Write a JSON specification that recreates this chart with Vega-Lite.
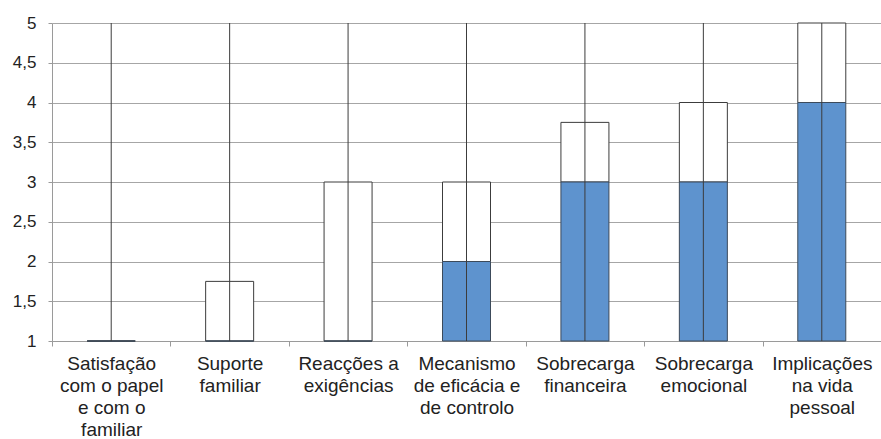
{
  "$schema": "https://vega.github.io/schema/vega-lite/v6.json",
  "autosize": "none",
  "width": 829,
  "height": 318,
  "padding": {"left": 52, "top": 23, "right": 0, "bottom": 98},
  "background": "white",
  "config": {
    "view": {"stroke": null},
    "font": "Liberation Sans",
    "axisY": {
      "title": null,
      "values": [1, 1.5, 2, 2.5, 3, 3.5, 4, 4.5, 5],
      "labelExpr": "replace(format(datum.value, '~g'), '.', ',')",
      "labelFontSize": 17,
      "labelColor": "#222222",
      "labelPadding": 12,
      "labelOverlap": false,
      "tickSize": 4,
      "tickColor": "#9a9a9a",
      "domainColor": "#9a9a9a",
      "grid": true,
      "gridColor": "#a6a6a6",
      "gridWidth": 1
    },
    "axisX": {
      "title": null,
      "labelAngle": 0,
      "labelAlign": "center",
      "labelBaseline": "top",
      "labelFontSize": 19,
      "labelLineHeight": 22,
      "labelColor": "#222222",
      "labelPadding": 8,
      "labelLimit": 0,
      "labelOverlap": false,
      "tickBand": "extent",
      "tickSize": 5,
      "tickColor": "#9a9a9a",
      "domainColor": "#9a9a9a",
      "grid": false
    }
  },
  "data": {
    "values": [
      {"cat": "Satisfação|com o papel|e com o|familiar", "min": 1, "q1": 1, "med": 1, "q3": 1, "max": 5},
      {"cat": "Suporte|familiar", "min": 1, "q1": 1, "med": 1, "q3": 1.75, "max": 5},
      {"cat": "Reacções a|exigências", "min": 1, "q1": 1, "med": 1, "q3": 3, "max": 5},
      {"cat": "Mecanismo|de eficácia e|de controlo", "min": 1, "q1": 1, "med": 2, "q3": 3, "max": 5},
      {"cat": "Sobrecarga|financeira", "min": 1, "q1": 1, "med": 3, "q3": 3.75, "max": 5},
      {"cat": "Sobrecarga|emocional", "min": 1, "q1": 1, "med": 3, "q3": 4, "max": 5},
      {"cat": "Implicações|na vida|pessoal", "min": 1, "q1": 1, "med": 4, "q3": 5, "max": 5}
    ]
  },
  "encoding": {
    "x": {
      "field": "cat", "type": "nominal", "sort": null,
      "scale": {"paddingInner": 0, "paddingOuter": 0},
      "axis": {"labelExpr": "isString(datum.value) ? split(datum.value, '|') : ''"}
    }
  },
  "layer": [
    {
      "mark": {"type": "bar", "width": 48, "fill": "#ffffff", "stroke": "#3c3c3c", "strokeWidth": 1},
      "encoding": {
        "y": {
          "field": "med", "type": "quantitative",
          "scale": {"domain": [1, 5], "nice": false, "zero": false}
        },
        "y2": {"field": "q3"}
      }
    },
    {
      "mark": {"type": "bar", "width": 48, "fill": "#5e93ce", "stroke": "#3c4a5a", "strokeWidth": 1},
      "encoding": {
        "y": {"field": "q1", "type": "quantitative", "scale": {"domain": [1, 5], "nice": false, "zero": false}},
        "y2": {"field": "med"}
      }
    },
    {
      "mark": {"type": "rule", "color": "#3c3c3c", "strokeWidth": 1},
      "encoding": {
        "y": {"field": "min", "type": "quantitative", "scale": {"domain": [1, 5], "nice": false, "zero": false}},
        "y2": {"field": "max"}
      }
    }
  ]
}
